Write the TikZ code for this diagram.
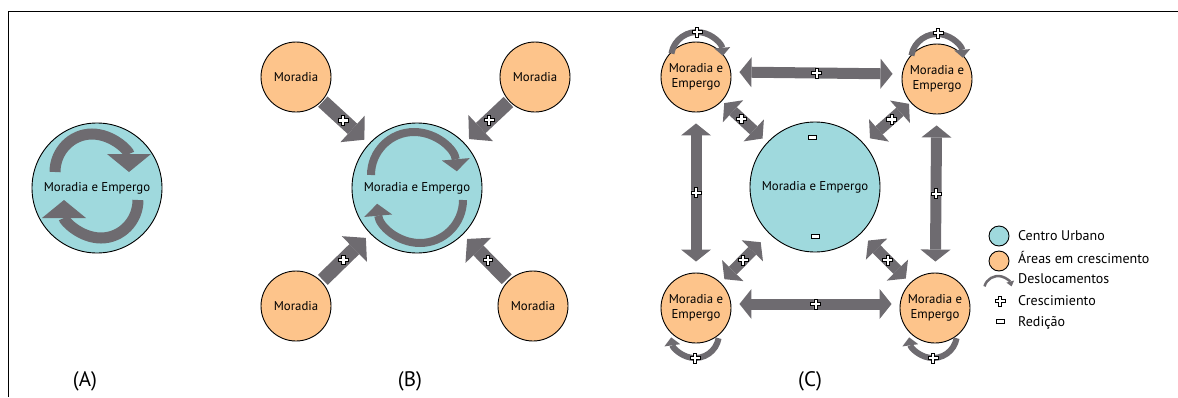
\documentclass[tikz,border=0pt]{standalone}
\usepackage{fontspec}
\setmainfont{PT Sans}
\usetikzlibrary{arrows.meta}
\definecolor{cuteal}{HTML}{9FD9DD}
\definecolor{areaorange}{HTML}{FDC48B}
\definecolor{arrowgray}{HTML}{6E6B70}

\begin{document}
\begin{tikzpicture}[x=1pt, y=-1pt,
    every node/.style={font=\fontsize{12.8}{15}\selectfont},
    centro/.style={circle, draw, line width=0.9pt, fill=cuteal, minimum size=130pt, inner sep=0pt},
    area/.style={circle, draw, line width=0.9pt, fill=areaorange, minimum size=70pt, inner sep=0pt, align=center},
    panel_label/.style={font=\fontsize{21}{24}\selectfont},
    legend_text/.style={anchor=west, inner sep=0pt, font=\fontsize{14}{16}\selectfont},
    big_flow/.style={draw=arrowgray, line width=14pt, -{Triangle[width=36pt, length=16pt, line width=0pt]}},
    cycle_a/.style={draw=arrowgray, line width=11pt, -{Triangle[width=44pt, length=18pt, line width=0pt]}},
    cycle_b/.style={draw=arrowgray, line width=8pt, -{Triangle[width=28pt, length=12pt, line width=0pt]}},
    link/.style={draw=arrowgray, line width=11pt, {Triangle[width=30pt, length=12pt, line width=0pt]}-{Triangle[width=30pt, length=12pt, line width=0pt]}},
    self_loop/.style={draw=arrowgray, line width=6pt, -{Triangle[width=16pt, length=8pt, line width=0pt]}},
    legend_loop/.style={draw=arrowgray, line width=2.5pt, -{Triangle[width=8pt, length=5pt, line width=0pt]}},
    plus_mark/.pic={
        \draw[black, line width=0.6pt, fill=white, solid, shorten <=0pt, shorten >=0pt, -]
            (-1.6,-4.8) -- (1.6,-4.8) -- (1.6,-1.6) -- (4.8,-1.6) -- (4.8,1.6) -- (1.6,1.6)
            -- (1.6,4.8) -- (-1.6,4.8) -- (-1.6,1.6) -- (-4.8,1.6) -- (-4.8,-1.6) -- (-1.6,-1.6) -- cycle;
    },
    minus_mark/.pic={
        \draw[black, line width=0.6pt, fill=white, shorten <=0pt, shorten >=0pt, -]
            (-4,-1.8) rectangle (4,1.8);
    }
]
    \useasboundingbox (0,0) rectangle (1178,397);

    % frame
    \coordinate (frame_corner) at (8,11);
    \draw[line width=1pt] (8,397) -- (frame_corner) -- (1178,11);

    % (A)
    \node (a_centro) [centro] at (97,188)
    {
        Moradia e Empergo
    };
    \draw[cycle_a] ([shift={(-42,-16)}]a_centro.center)
        arc[start angle=180, end angle=360, x radius=37, y radius=38];
    \draw[cycle_a] ([shift={(41,12)}]a_centro.center)
        arc[start angle=0, end angle=180, x radius=37, y radius=38];
    \node (a_label) [panel_label] at (85,381) {(A)};

    % (B)
    \node (b_centro) [centro] at (417,188)
    {
        Moradia e Empergo
    };
    \node (b_moradia_nw) [area] at (296,77) {Moradia};
    \node (b_moradia_ne) [area] at (535,77) {Moradia};
    \node (b_moradia_sw) [area] at (296,306) {Moradia};
    \node (b_moradia_se) [area] at (533,306) {Moradia};
    \draw[cycle_b] ([shift={(-46,-13)}]b_centro.center)
        arc[start angle=180, end angle=355, radius=43];
    \draw[cycle_b] ([shift={(46,12)}]b_centro.center)
        arc[start angle=0, end angle=175, radius=43];
    \draw[big_flow, shorten <=1pt, shorten >=6pt] (b_moradia_nw) -- pic[pos=.45]{plus_mark} (b_centro);
    \draw[big_flow, shorten <=1pt, shorten >=6pt] (b_moradia_ne) -- pic[pos=.45]{plus_mark} (b_centro);
    \draw[big_flow, shorten <=2pt, shorten >=6pt] (b_moradia_sw) -- pic[pos=.45]{plus_mark} (b_centro);
    \draw[big_flow, shorten <=2pt, shorten >=6pt] (b_moradia_se) -- pic[pos=.45]{plus_mark} (b_centro);
    \node (b_label) [panel_label] at (410,381) {(B)};

    % (C)
    \node (c_centro) [centro] at (815,187)
    {
        Moradia e Empergo
    };
    \node (c_area_nw) [area] at (696,77) {Moradia e\\Empergo};
    \node (c_area_ne) [area] at (937,79) {Moradia e\\Empergo};
    \node (c_area_sw) [area] at (696,308) {Moradia e\\Empergo};
    \node (c_area_se) [area] at (935,308) {Moradia e\\Empergo};
    \pic at ([shift={(-3,-50)}]c_centro.center) {minus_mark};
    \pic at ([shift={(0,49)}]c_centro.center) {minus_mark};

    \draw[link, shorten <=8pt, shorten >=9pt] ([yshift=5pt]c_area_nw.east) -- pic[pos=.5]{plus_mark} ([yshift=5pt]c_area_ne.west);
    \draw[link, shorten <=8pt, shorten >=8pt] ([yshift=4pt]c_area_sw.east) -- pic[pos=.5]{plus_mark} ([yshift=4pt]c_area_se.west);
    \draw[link, shorten <=11pt, shorten >=11pt] (c_area_nw) -- pic[pos=.5]{plus_mark} (c_area_sw);
    \draw[link, shorten <=11pt, shorten >=11pt] (c_area_ne) -- pic[pos=.5]{plus_mark} (c_area_se);
    \draw[link, shorten <=3pt, shorten >=6pt] (c_area_nw) -- pic[pos=.43]{plus_mark} (c_centro);
    \draw[link, shorten <=2pt, shorten >=8pt] (c_area_ne) -- pic[pos=.41]{plus_mark} (c_centro);
    \draw[link, shorten <=5pt, shorten >=12pt] (c_area_sw) -- pic[pos=.46]{plus_mark} (c_centro);
    \draw[link, shorten <=6pt, shorten >=10pt] (c_area_se) -- pic[pos=.46]{plus_mark} (c_centro);

    % self loops
    \draw[self_loop] ([shift={(-24.6,-23.5)}]c_area_nw.center) arc[start angle=190, end angle=355, radius=26];
    \pic at ([shift={(1,-45)}]c_area_nw.center) {plus_mark};
    \draw[self_loop] ([shift={(-25.6,-23.5)}]c_area_ne.center) arc[start angle=190, end angle=355, radius=26];
    \pic at ([shift={(1,-46)}]c_area_ne.center) {plus_mark};
    \draw[self_loop] ([shift={(22.6,30.2)}]c_area_sw.center) arc[start angle=10, end angle=172, radius=24];
    \pic at ([shift={(-1,50)}]c_area_sw.center) {plus_mark};
    \draw[self_loop] ([shift={(21.6,30.2)}]c_area_se.center) arc[start angle=10, end angle=172, radius=24];
    \pic at ([shift={(-2,50)}]c_area_se.center) {plus_mark};
    \node (c_label) [panel_label] at (810,381) {(C)};

    % legend
    \node (leg_centro) [circle, draw, line width=0.9pt, fill=cuteal, minimum size=20pt, inner sep=0pt] at (999,236) {};
    \node (leg_centro_txt) [legend_text] at (1018,236) {Centro Urbano};
    \node (leg_area) [circle, draw, line width=0.9pt, fill=areaorange, minimum size=20pt, inner sep=0pt] at (999,261) {};
    \node (leg_area_txt) [legend_text] at (1018,257) {Áreas em crescimento};
    \coordinate (leg_loop_start) at (984.5,286.4);
    \draw[legend_loop] (leg_loop_start) arc[start angle=195, end angle=345, radius=14];
    \node (leg_loop_txt) [legend_text] at (1018,279) {Deslocamentos};
    \pic at (1000,301) {plus_mark};
    \node (leg_plus_txt) [legend_text] at (1018,301) {Crescimiento};
    \pic at (1000,321) {minus_mark};
    \node (leg_minus_txt) [legend_text] at (1018,323) {Redição};
\end{tikzpicture}
\end{document}
